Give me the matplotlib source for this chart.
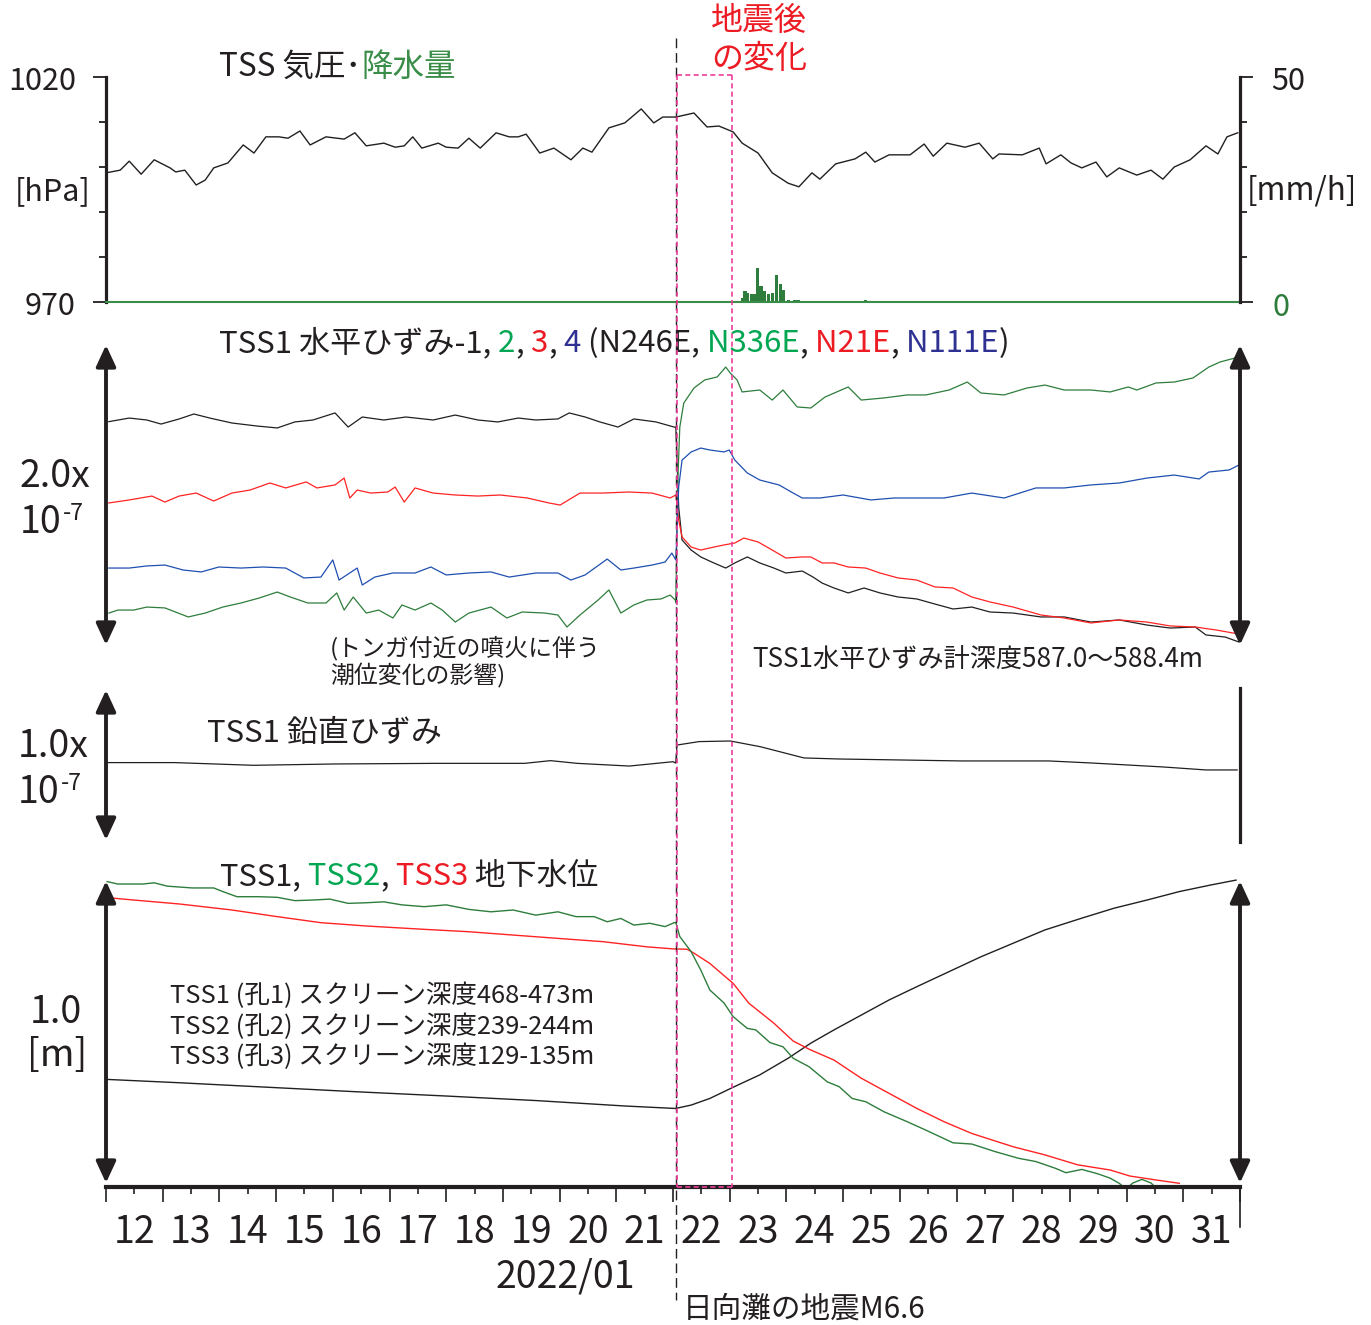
import matplotlib
matplotlib.use('Agg')
import matplotlib.pyplot as plt
from matplotlib.lines import Line2D
from matplotlib.transforms import blended_transform_factory
from matplotlib.ticker import FixedLocator, NullFormatter, FixedFormatter
import numpy as np

JP = ['Noto Sans CJK JP', 'DejaVu Sans']
plt.rcParams['font.family'] = JP

# ---------------- data (time = days since 2022-01-12 00:00 JST) ----------------
START_DAY = 12          # 2022/01/12
END_DAY = 32            # 2022/02/01
EQ_DAY = 22.047         # 2022/01/22 01:08 M6.6 Hyuganada
EVENT_WINDOW = 1.0      # "地震後の変化" window length (days)

day_labels = [str(d) for d in range(12, 32)]

# barometric pressure [hPa]
p_t = [0.00, 0.25, 0.41, 0.62, 0.85, 1.13, 1.23, 1.39, 1.59, 1.75, 1.90, 2.15, 2.42, 2.61, 2.82, 3.05,
       3.21, 3.42, 3.60, 3.88, 4.20, 4.39, 4.59, 4.90, 5.10, 5.26, 5.41, 5.57, 5.86, 6.00, 6.21, 6.40,
       6.60, 6.88, 7.11, 7.27, 7.41, 7.65, 7.90, 8.20, 8.41, 8.57, 8.87, 9.15, 9.44, 9.66, 9.82, 10.05,
       10.37, 10.60, 10.81, 11.06, 11.22, 11.50, 11.75, 12.03, 12.22, 12.45, 12.59, 12.87, 13.21, 13.40,
       13.56, 13.81, 14.18, 14.43, 14.59, 14.83, 15.15, 15.40, 15.64, 15.75, 16.16, 16.46, 16.58, 16.84,
       17.02, 17.21, 17.46, 17.65, 17.87, 18.18, 18.43, 18.64, 18.84, 19.12, 19.40, 19.61, 19.77, 19.96]
p_hpa = [998.7, 999.3, 1001.3, 998.4, 1001.6, 999.8, 998.9, 999.3, 996.0, 997.1, 999.8, 1000.9, 1004.9,
         1003.1, 1006.7, 1006.7, 1006.4, 1008.0, 1004.9, 1006.7, 1006.2, 1007.6, 1004.7, 1005.3, 1004.4,
         1004.7, 1006.7, 1004.2, 1005.3, 1004.4, 1004.2, 1006.4, 1004.2, 1007.6, 1006.7, 1006.7, 1007.3,
         1003.1, 1004.2, 1001.6, 1004.2, 1003.3, 1008.7, 1009.8, 1012.9, 1009.8, 1011.1, 1011.1,
         1012.0, 1008.9, 1009.1, 1007.8, 1005.3, 1003.1, 998.7, 996.4, 995.6, 998.7, 997.3, 1000.7, 1001.8,
         1003.3, 1001.1, 1002.7, 1002.7, 1005.1, 1002.4, 1005.3, 1004.4, 1005.3, 1001.8, 1002.9, 1002.7,
         1004.2, 1000.7, 1002.7, 1000.9, 999.8, 1001.1, 997.8, 999.8, 998.2, 999.3, 997.3, 1000.0, 1001.6,
         1004.7, 1002.9, 1006.7, 1007.6]

# precipitation [mm/h]
rain_t = [11.23, 11.27, 11.32, 11.38, 11.43, 11.49, 11.55, 11.61, 11.68, 11.75, 11.82, 11.89, 11.95,
          12.04, 12.15, 12.21, 13.39]
rain_mm = [1.0, 2.5, 2.0, 1.8, 1.8, 7.6, 3.6, 2.5, 1.8, 2.1, 6.1, 4.1, 2.6, 0.5, 0.5, 0.5, 0.5]

# horizontal strain components [1e-9, relative, offset for display]
h1_t = [0.05, 0.41, 0.72, 0.97, 1.29, 1.55, 1.83, 2.22, 2.66, 3.02, 3.33, 3.65, 4.04, 4.27, 4.52, 4.90,
        5.29, 5.77, 6.16, 6.56, 6.91, 7.27, 7.58, 7.97, 8.17, 8.45, 8.71, 9.03, 9.31, 9.70, 10.02,
        10.05, 10.10, 10.16, 10.32, 10.49, 10.72, 10.93, 11.09, 11.31, 11.53, 11.78, 11.99, 12.28, 12.47,
        12.63, 12.84, 13.09, 13.37, 13.65, 13.97, 14.30, 14.62, 14.94, 15.27, 15.59, 16.00, 16.49, 16.90,
        17.37, 17.87, 18.36, 18.77, 19.21, 19.40, 19.74, 19.98]
h1_v = [148.9, 151.3, 150, 147.3, 150.7, 154, 151.3, 148, 146, 144.7, 148.7, 150, 154.7, 145.3, 152, 150,
        152, 150, 153.3, 150, 148.7, 151.3, 150, 150.7, 154.7, 152, 148.7, 145.3, 150.7, 148.7, 145.3,
        145.3, 92, 70, 63.3, 58.7, 54.7, 51.3, 54.7, 58.7, 54.7, 51.3, 48, 49.3, 45.3, 41.3, 38, 34.7, 38,
        34.7, 32, 30.7, 27.3, 24, 25.3, 22, 21.3, 18.7, 18.7, 15.3, 16.7, 13.3, 11.3, 12, 6.7, 5.3, 2]

h2_t = [0.05, 0.21, 0.49, 0.72, 1.04, 1.45, 1.75, 2.06, 2.38, 2.70, 3.02, 3.25, 3.56, 3.88, 4.07, 4.20,
        4.36, 4.59, 4.81, 5.06, 5.22, 5.45, 5.73, 5.93, 6.16, 6.40, 6.79, 7.07, 7.34, 7.74, 7.97, 8.13,
        8.36, 8.68, 8.87, 9.08, 9.31, 9.54, 9.79, 9.95, 10.04,
        10.05, 10.08, 10.12, 10.19, 10.37, 10.56, 10.78, 10.93, 11.01, 11.13, 11.22, 11.53, 11.75, 11.94,
        12.19, 12.43, 12.68, 13.09, 13.32, 13.72, 14.13, 14.46, 14.87, 15.19, 15.43, 15.84, 16.24, 16.56,
        16.90, 17.37, 17.71, 18.03, 18.18, 18.52, 18.84, 19.17, 19.45, 19.65, 19.98]
h2_v = [21.3, 23.3, 23.3, 25.3, 24.7, 18.7, 21.3, 25.3, 28, 31.3, 35.3, 32, 28, 28, 34.7, 23.3, 32, 21.3,
        23.3, 18, 26.7, 23.3, 28, 23.3, 15.3, 21.3, 25.3, 18, 22, 21.3, 20, 12, 20, 30, 36.7, 21.3, 26.7,
        30, 30.7, 33.3, 30,
        28, 105.3, 145.3, 161.3, 171.3, 176.7, 178.7, 185.3, 181.3, 176.7, 168.7, 170, 163.3, 170, 158.7,
        158, 165.3, 172, 163.3, 164.7, 166.7, 166.7, 170, 175.3, 168, 166.7, 171.3, 173.3, 170, 170, 168.7,
        172, 170, 174.7, 175.3, 178, 185.3, 188.7, 192]

h3_t = [0.05, 0.41, 0.81, 1.04, 1.29, 1.59, 1.90, 2.22, 2.54, 2.89, 3.17, 3.53, 3.72, 4.04, 4.20, 4.30,
        4.43, 4.67, 4.97, 5.10, 5.26, 5.45, 5.77, 6.16, 6.56, 6.95, 7.43, 7.81, 8.01, 8.36, 8.77, 9.22,
        9.63, 9.95,
        10.05, 10.10, 10.16, 10.32, 10.49, 10.72, 10.90, 11.09, 11.25, 11.50, 11.75, 11.99, 12.28, 12.43,
        12.63, 12.84, 13.09, 13.40, 13.65, 13.97, 14.30, 14.62, 14.94, 15.27, 15.59, 16.00, 16.49, 16.90,
        17.37, 17.87, 18.36, 18.77, 19.21, 19.58, 19.98]
h3_v = [94.7, 96.7, 99.3, 95.3, 99.3, 101.3, 96, 101.3, 103.3, 108, 104.7, 108.7, 104.7, 106.7, 111.3, 98,
        103.3, 101.3, 102, 105.3, 95.3, 104.7, 101.3, 100, 99.3, 100, 98, 94.7, 93.3, 101.3, 101.3, 102,
        101.3, 98,
        100, 83.3, 72, 65.3, 63.3, 65.3, 66.7, 68, 71.3, 68.7, 63.3, 58, 58.7, 58.7, 54.7, 54.7, 52, 51.3,
        48, 44.7, 43.3, 38.7, 38, 32, 28.7, 25.3, 20, 18, 14.7, 16.7, 15.3, 12.7, 12, 10, 7.3]

h4_t = [0.05, 0.41, 0.72, 1.04, 1.36, 1.68, 1.99, 2.38, 2.77, 3.17, 3.49, 3.79, 4.00, 4.11, 4.43, 4.52,
        4.74, 5.06, 5.45, 5.73, 6.00, 6.40, 6.79, 7.11, 7.58, 7.97, 8.20, 8.45, 8.84, 9.08, 9.31, 9.63,
        9.86, 9.98, 10.04,
        10.05, 10.10, 10.16, 10.32, 10.49, 10.65, 10.90, 10.99, 11.09, 11.31, 11.53, 11.87, 12.12, 12.28,
        12.59, 13.00, 13.49, 13.90, 14.30, 14.78, 15.27, 15.84, 16.40, 16.90, 17.37, 17.87, 18.36, 18.84,
        19.28, 19.45, 19.81, 19.98]
h4_v = [51.3, 51.3, 52.7, 53.3, 50, 48.7, 52, 51.3, 52, 51.3, 44.7, 45.3, 56.7, 43.3, 51.3, 40, 45.3, 48,
        48, 52, 46.7, 48, 48.7, 45.3, 48, 48, 43.3, 46.7, 57.3, 50, 51.3, 53.3, 55.3, 61.3, 57.3,
        56.7, 105.3, 123.3, 128.7, 131.3, 130, 128.7, 130, 123.3, 114.7, 110, 106.7, 101.3, 98, 98, 100,
        96.7, 98, 98, 98, 101.3, 98, 104.7, 104.7, 106.7, 108, 111.3, 113.3, 110.7, 115.3, 116.7, 120]

# vertical strain [1e-9, relative]
vs_t = [0.01, 1.21, 2.60, 4.07, 5.84, 7.38, 7.84, 8.31, 9.23, 10.00, 10.05, 10.07, 10.46, 11.01, 11.54,
        12.31, 12.93, 15.09, 16.63, 17.40, 18.64, 19.40, 19.95]
vs_v = [51.6, 51.6, 49.8, 50.7, 51.1, 51.1, 52.9, 51.1, 49.3, 52.2, 51.3, 63.3, 65.6, 66, 62.2, 54.7, 54,
        52.7, 52.7, 51.3, 48.7, 46.7, 46.7]

# groundwater level [m, relative]
gw1_t = [0.02, 1.29, 2.86, 4.43, 6.00, 7.58, 9.15, 10.02, 10.05, 10.32, 10.65, 11.06, 11.53, 12.03, 12.43,
         12.84, 13.32, 13.81, 14.30, 14.87, 15.43, 16.00, 16.56, 17.21, 17.78, 18.36, 18.93, 19.49, 19.93]
gw1_m = [0.343, 0.332, 0.317, 0.302, 0.288, 0.273, 0.255, 0.247, 0.247, 0.258, 0.280, 0.317, 0.358, 0.413,
         0.463, 0.507, 0.556, 0.606, 0.650, 0.700, 0.749, 0.794, 0.838, 0.877, 0.910, 0.937, 0.965, 0.987,
         1.003]
gw2_t = [0.02, 0.21, 0.65, 0.85, 1.08, 1.52, 1.90, 2.06, 2.31, 2.70, 3.02, 3.33, 3.65, 3.95, 4.27, 4.59,
         4.90, 5.22, 5.61, 6.00, 6.40, 6.79, 7.18, 7.58, 7.97, 8.29, 8.61, 8.84, 9.08, 9.31, 9.59, 9.86,
         10.02, 10.05, 10.12, 10.32, 10.49, 10.65, 10.90, 11.06, 11.31, 11.46, 11.71, 11.94, 12.12, 12.40,
         12.72, 12.93, 13.16, 13.40, 13.72, 14.13, 14.46, 14.94, 15.27, 15.68, 16.09, 16.40, 16.74, 16.93,
         17.21, 17.50, 17.71, 17.87, 17.99, 18.11, 18.27, 18.43, 18.60]
gw2_m = [0.998, 0.990, 0.990, 0.994, 0.983, 0.977, 0.977, 0.965, 0.948, 0.948, 0.946, 0.935, 0.937, 0.940,
         0.926, 0.928, 0.931, 0.921, 0.915, 0.921, 0.906, 0.898, 0.904, 0.887, 0.898, 0.882, 0.882, 0.865,
         0.876, 0.854, 0.860, 0.849, 0.862, 0.862, 0.816, 0.766, 0.705, 0.639, 0.596, 0.551, 0.512, 0.507,
         0.465, 0.451, 0.413, 0.385, 0.335, 0.319, 0.280, 0.269, 0.236, 0.203, 0.175, 0.133, 0.129, 0.104,
         0.082, 0.071, 0.049, 0.034, 0.045, 0.030, 0.016, -0.001, -0.02, 0.000, 0.012, 0.000, -0.03]
gw3_t = [0.02, 0.49, 1.29, 2.22, 3.02, 3.79, 4.59, 5.61, 6.40, 7.18, 7.97, 8.77, 9.54, 10.02, 10.05, 10.25,
         10.37, 10.65, 11.06, 11.34, 11.78, 12.12, 12.40, 12.84, 13.32, 13.81, 14.30, 14.78, 15.27, 16.00,
         16.56, 17.14, 17.71, 18.06, 18.52, 18.93]
gw3_m = [0.945, 0.937, 0.924, 0.904, 0.882, 0.862, 0.851, 0.840, 0.832, 0.821, 0.810, 0.799, 0.782, 0.775,
         0.775, 0.774, 0.761, 0.727, 0.661, 0.595, 0.529, 0.470, 0.443, 0.407, 0.347, 0.297, 0.247, 0.203,
         0.164, 0.120, 0.093, 0.060, 0.043, 0.023, 0.010, -0.001]

# ---------------- styling ----------------
K = '#231f20'
LGREEN = '#2e7d3c'
TGREEN = '#00a651'
RGREEN = '#3a8d48'
RED = '#ff2323'
TRED = '#ed1c24'
BLUE = '#1f4fb0'
TBLUE = '#2e3192'
PINK = '#f03c9c'

W, H = 1371, 1325
fig = plt.figure(figsize=(W / 100, H / 100), dpi=100)
renderer = fig.canvas.get_renderer()


def rect(x0, y0, x1, y1):
    return [x0 / W, 1 - y1 / H, (x1 - x0) / W, (y1 - y0) / H]


def days(t):
    return START_DAY + np.asarray(t)


def clean(ax):
    for s in ax.spines.values():
        s.set_visible(False)
    ax.set_xlim(START_DAY, END_DAY)
    ax.set_xticks([])
    ax.set_yticks([])
    ax.patch.set_alpha(0)


def darrow(ax, xf, y0, y1):
    ax.annotate('', xy=(xf, y1), xytext=(xf, y0),
                xycoords=('axes fraction', 'data'), textcoords=('axes fraction', 'data'),
                arrowprops=dict(arrowstyle='<|-|>,head_length=0.65,head_width=0.3', lw=2.8,
                                color=K, shrinkA=0, shrinkB=0, mutation_scale=20),
                annotation_clip=False)


def ctext(x, y, parts, size, **kw):
    for s, c in parts:
        t = fig.text(x / W, 1 - y / H, s, color=c, fontsize=size, va='baseline', ha='left', **kw)
        x = t.get_window_extent(renderer).x1
    return x


def txt(x, y, s, size, color=K, ha='left'):
    return fig.text(x / W, 1 - y / H, s, color=color, fontsize=size, va='baseline', ha=ha)


def sci(x, y, size):
    t = txt(x, y, '10', size)
    x1 = t.get_window_extent(renderer).x1
    txt(x1 + 1, y - 13, '-7', size * 0.62)


# ---------------- panel 1: pressure + rain ----------------
ax1 = fig.add_axes(rect(106, 77, 1240, 302))
clean(ax1)
ax1.set_ylim(970, 1020)
ax1.plot(days(p_t), p_hpa, color=K, lw=1.0)
ax1.spines['left'].set_visible(True)
ax1.spines['left'].set_linewidth(2.3)
ax1.spines['left'].set_color(K)
ax1.yaxis.set_major_locator(FixedLocator([970, 1020]))
ax1.yaxis.set_minor_locator(FixedLocator([980, 990, 1000, 1010]))
ax1.tick_params(axis='y', which='major', length=9.5, width=1.3, color=K, labelleft=False)
ax1.tick_params(axis='y', which='minor', length=5, width=1.3, color=K)

ax1r = ax1.twinx()
clean(ax1r)
ax1r.set_ylim(0, 50)
ax1r.bar(days(rain_t), rain_mm, width=0.058, color=LGREEN, linewidth=0)
ax1r.axhline(0, color=RGREEN, lw=1.5, clip_on=False)
ax1r.spines['right'].set_visible(True)
ax1r.spines['right'].set_linewidth(2.3)
ax1r.spines['right'].set_color(K)
ax1r.yaxis.set_major_locator(FixedLocator([0, 50]))
ax1r.yaxis.set_minor_locator(FixedLocator([10, 20, 30, 40]))
ax1r.yaxis.set_major_formatter(NullFormatter())
ax1r.tick_params(axis='y', which='major', length=9.5, width=1.3, color=K, labelright=False)
ax1r.tick_params(axis='y', which='minor', length=5, width=1.3, color=K)

txt(76, 90, '1020', 22, ha='right')
txt(76, 315, '970', 22, ha='right')
txt(53, 200, '[hPa]', 22, ha='center')
txt(1271, 90, '50', 22)
txt(1273, 316, '0', 22, color=LGREEN)
txt(1247, 200, '[mm/h]', 22.5)
ctext(219, 76, [('TSS 気圧･', K), ('降水量', RGREEN)], 22.7)
txt(711, 30, '地震後', 23, color=TRED)
txt(711, 68, 'の変化', 23, color=TRED)

# ---------------- panel 2: horizontal strain ----------------
ax2 = fig.add_axes(rect(106, 330, 1240, 660))
clean(ax2)
ax2.set_ylim(-10, 210)
ax2.plot(days(h1_t), h1_v, color=K, lw=0.9)
ax2.plot(days(h2_t), h2_v, color=LGREEN, lw=0.9)
ax2.plot(days(h3_t), h3_v, color=RED, lw=0.9)
ax2.plot(days(h4_t), h4_v, color=BLUE, lw=0.9)
darrow(ax2, 0, 0, 200)
darrow(ax2, 1, 0, 200)
ctext(219, 352, [('TSS1 水平ひずみ-1,', K), (' 2', TGREEN), (',', K), (' 3', TRED), (',', K),
                 (' 4', TBLUE), (' (N246E,', K), (' N336E', TGREEN), (',', K), (' N21E', TRED),
                 (',', K), (' N111E', TBLUE), (')', K)], 22.4)
txt(20, 487, '2.0x', 27)
sci(20, 533, 27)
txt(330, 655, '(トンガ付近の噴火に伴う', 17.2)
txt(330, 683, '潮位変化の影響)', 17.2)
txt(752, 668, 'TSS1水平ひずみ計深度587.0〜588.4m', 18.8)

# ---------------- panel 3: vertical strain ----------------
ax3 = fig.add_axes(rect(106, 680, 1240, 850))
clean(ax3)
ax3.set_ylim(-6.667, 106.667)
ax3.plot(days(vs_t), vs_v, color=K, lw=0.9)
darrow(ax3, 0, 0, 100)
ax3.spines['right'].set_visible(True)
ax3.spines['right'].set_linewidth(2.3)
ax3.spines['right'].set_color(K)
ax3.spines['right'].set_bounds(-1.5, 101.5)
txt(207, 742, 'TSS1 鉛直ひずみ', 22.3)
txt(18, 757, '1.0x', 27)
sci(18, 803, 27)

# ---------------- panel 4: groundwater ----------------
ax4 = fig.add_axes(rect(106, 865, 1240, 1187))
clean(ax4)
ax4.set_ylim(-0.01325, 1.053)
ax4.plot(days(gw1_t), gw1_m, color=K, lw=1.0)
ax4.plot(days(gw3_t), gw3_m, color=RED, lw=1.0)
ax4.plot(days(gw2_t), gw2_m, color=LGREEN, lw=1.0)
darrow(ax4, 0, 0, 1.0)
darrow(ax4, 1, 0, 1.0)
ax4.spines['bottom'].set_visible(True)
ax4.spines['bottom'].set_linewidth(3)
ax4.spines['bottom'].set_color(K)
ax4.xaxis.set_major_locator(FixedLocator(list(range(START_DAY, END_DAY + 1))))
ax4.xaxis.set_major_formatter(NullFormatter())
ax4.xaxis.set_minor_locator(FixedLocator([d + 0.5 for d in range(START_DAY, END_DAY)]))
ax4.xaxis.set_minor_formatter(FixedFormatter(day_labels))
ax4.tick_params(axis='x', which='major', length=10.5, width=1.2, color=K)
ax4.tick_params(axis='x', which='minor', length=5, width=1.2, color=K, labelsize=27, pad=14,
                labelcolor=K)
ctext(220, 885, [('TSS1,', K), (' TSS2', TGREEN), (',', K), (' TSS3', TRED), (' 地下水位', K)], 22.2)
txt(170, 1003, 'TSS1 (孔1) スクリーン深度468-473m', 18.4)
txt(170, 1034, 'TSS2 (孔2) スクリーン深度239-244m', 18.4)
txt(170, 1064, 'TSS3 (孔3) スクリーン深度129-135m', 18.4)
txt(30, 1023, '1.0', 27)
txt(27, 1066, '[m]', 27)
txt(565, 1288, '2022/01', 27, ha='center')
txt(683, 1318, '日向灘の地震M6.6', 21.3)

# ---------------- event markers ----------------
bt = blended_transform_factory(ax4.transData, fig.transFigure)
fig.add_artist(Line2D([END_DAY, END_DAY], [1 - 1187 / H, 1 - 1227 / H], transform=bt, color=K, lw=1.2))
fig.add_artist(Line2D([EQ_DAY, EQ_DAY], [1 - 38 / H, 1 - 1300 / H], transform=bt, color=K, lw=1.0,
                      dashes=(7, 3.5), zorder=10))
x0, x1 = EQ_DAY + 0.02, EQ_DAY + EVENT_WINDOW
yt, yb = 1 - 75 / H, 1 - 1187 / H
for xs, ys in [([x0, x0], [yt, yb]), ([x1, x1], [yt, yb]), ([x0, x1], [yt, yt]), ([x0, x1], [yb, yb])]:
    fig.add_artist(Line2D(xs, ys, transform=bt, color=PINK, lw=1.2, dashes=(3, 2), zorder=11))

fig.savefig('out.png', dpi=100)
